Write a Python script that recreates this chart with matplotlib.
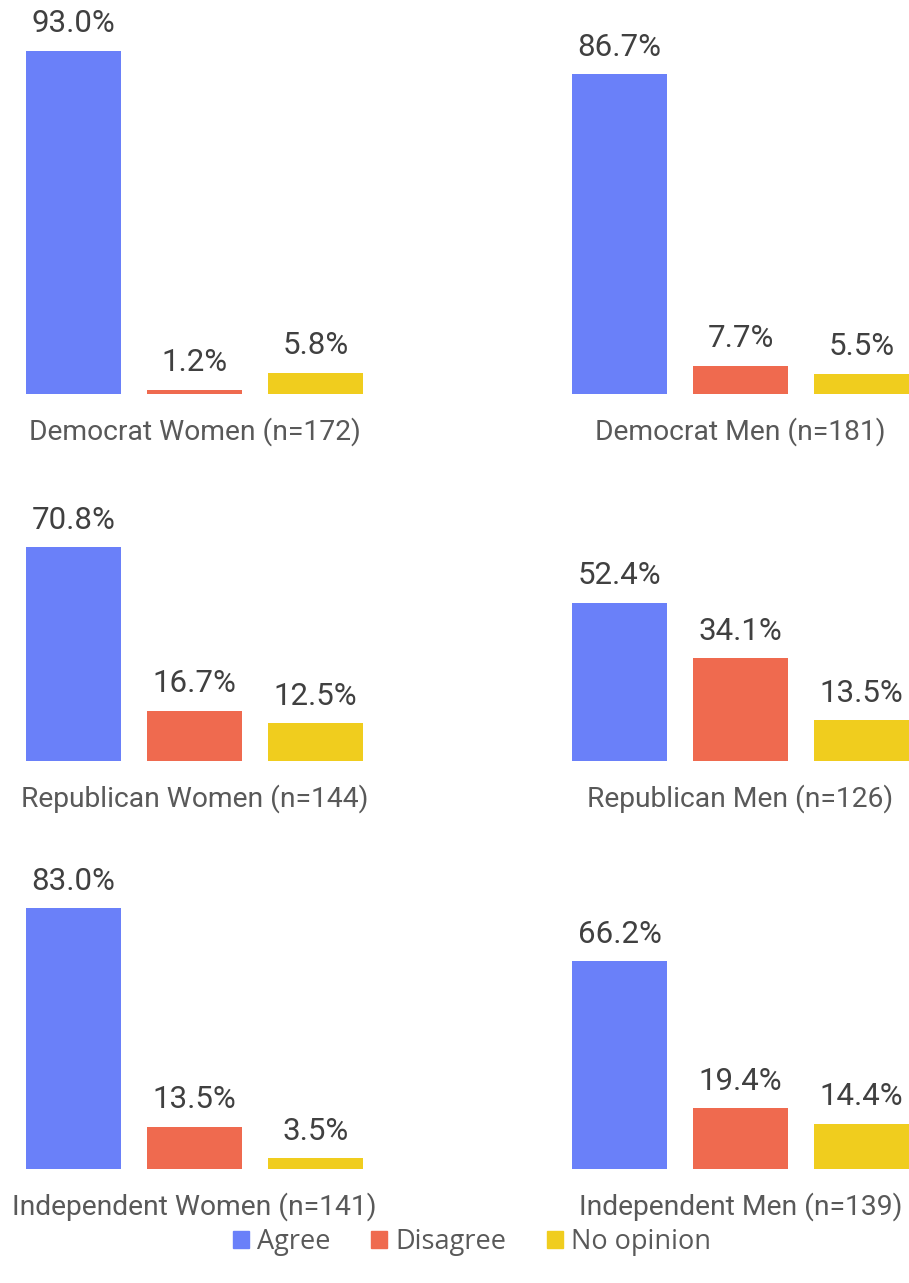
import matplotlib.pyplot as plt
from matplotlib.patches import Patch

# 데이터
groups = ['Democrat Women (n=172)', 'Democrat Men (n=181)',
          'Republican Women (n=144)', 'Republican Men (n=126)',
          'Independent Women (n=141)', 'Independent Men (n=139)']
answers = ['Agree', 'Disagree', 'No opinion']
agree = [93.0, 86.7, 70.8, 52.4, 83.0, 66.2]
disagree = [1.2, 7.7, 16.7, 34.1, 13.5, 19.4]
no_opinion = [5.8, 5.5, 12.5, 13.5, 3.5, 14.4]
colors = ['#6A80F9', '#EF6A4F', '#F0CD1E']

plt.rcParams['font.family'] = ['Roboto', 'DejaVu Sans']

W, H = 909, 1283
fig = plt.figure(figsize=(W / 100, H / 100), dpi=100)

# 패널 위치 (픽셀): 열 왼쪽 x, 행 기준선 y, 100% 높이
col_x = [13, 559]
rows = [(394, 369), (761, 302), (1169, 314)]
panel_w = 363

for i, name in enumerate(groups):
    r, c = divmod(i, 2)
    base, h100 = rows[r]
    ax = fig.add_axes([col_x[c] / W, 1 - base / H, panel_w / W, h100 / H])
    vals = [agree[i], disagree[i], no_opinion[i]]
    bars = ax.bar(range(3), vals, width=0.785, color=colors)
    ax.set_xlim(-0.5, 2.5)
    ax.set_ylim(0, 100)
    for b, v in zip(bars, vals):
        ax.annotate(f'{v:.1f}%', (b.get_x() + b.get_width() / 2, v),
                    xytext=(0, 9), textcoords='offset points',
                    ha='center', va='bottom', fontsize=22.5, color='#404040')
    # 그룹 이름 (기준선 아래)
    ax.annotate(name, (0.5, 0), xycoords='axes fraction',
                xytext=(0, -27), textcoords='offset points',
                ha='center', va='center', fontsize=20.3, color='#595959')
    ax.axis('off')

# 범례
handles = [Patch(color=col, label=lab) for col, lab in zip(colors, answers)]
fig.legend(handles=handles, loc='center', ncol=3, frameon=False,
           bbox_to_anchor=(472 / W, 1 - 1242 / H),
           prop={'family': 'Open Sans', 'size': 19.5},
           labelcolor='#595959', handlelength=0.6, handleheight=0.6,
           handletextpad=0.3, columnspacing=1.5)

plt.savefig('out.png', dpi=100)
